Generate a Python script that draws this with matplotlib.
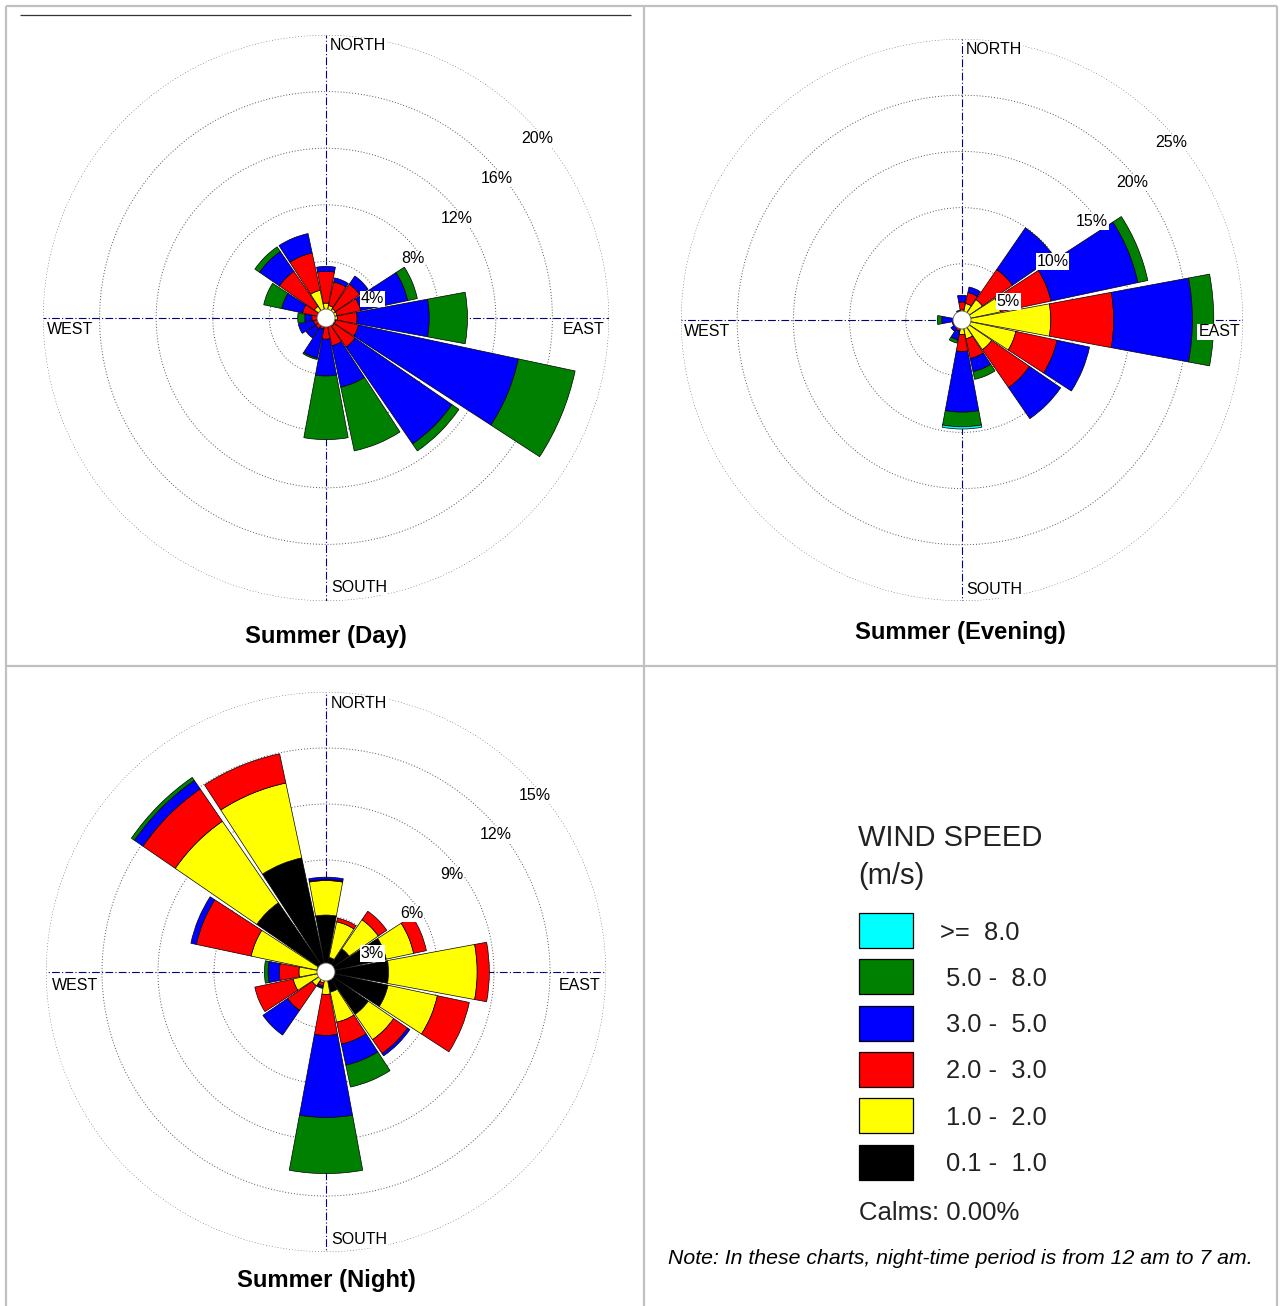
import numpy as np
import matplotlib
matplotlib.use('Agg')
import matplotlib.pyplot as plt
from matplotlib.patches import Circle, Rectangle

plt.rcParams['font.family'] = ['Liberation Sans', 'DejaVu Sans']

W, H = 1283, 1306

directions = ['N', 'NNE', 'NE', 'ENE', 'E', 'ESE', 'SE', 'SSE',
              'S', 'SSW', 'SW', 'WSW', 'W', 'WNW', 'NW', 'NNW']
direction_deg = [0, 22.5, 45, 67.5, 90, 112.5, 135, 157.5,
                 180, 202.5, 225, 247.5, 270, 292.5, 315, 337.5]

speed_labels = ['0.1 -  1.0', '1.0 -  2.0', '2.0 -  3.0',
                '3.0 -  5.0', '5.0 -  8.0', '>=  8.0']
speed_colors = ['#000000', '#ffff00', '#ff0000', '#0000ff', '#008000', '#00ffff']

# frequency (%) of each speed class, per direction (N, NNE, ... NNW)
day_lt1 = [0, 0, 0, 0, 0, 0, 0, 0, 0, 0, 0, 0, 0, 0, 0, 0]
day_1to2 = [1.05, 0.9, 0.8, 0.8, 0.8, 0.7, 0.7, 0.6, 0.5, 0.4, 0.4, 0.4, 0.4, 0.6, 1.0, 2.0]
day_2to3 = [2.25, 1.7, 2.1, 1.7, 1.4, 1.65, 1.8, 1.4, 1.0, 0.4, 0.5, 0.5, 0.6, 1.1, 3.0, 2.7]
day_3to5 = [0.35, 0.3, 0.7, 3.4, 5.1, 11.55, 8.3, 3.0, 2.6, 2.1, 0.8, 1.1, 0.5, 1.5, 1.7, 1.4]
day_5to8 = [0, 0, 0, 0.7, 2.7, 4.1, 0.6, 4.6, 4.5, 0.1, 0, 0, 0.5, 1.3, 0.4, 0]
day_ge8 = [0, 0, 0, 0, 0, 0, 0, 0, 0, 0, 0, 0, 0, 0, 0, 0]

eve_lt1 = [0.2, 0.2, 0.3, 0.3, 0.5, 0.5, 0.4, 0.3, 0.2, 0.1, 0.1, 0.1, 0.1, 0.1, 0.1, 0.1]
eve_1to2 = [0.7, 1.3, 1.9, 3.2, 7.4, 4.4, 2.8, 1.4, 1.1, 0.4, 0.3, 0.2, 0.2, 0.2, 0.2, 0.3]
eve_2to3 = [0.7, 1.0, 3.25, 4.6, 5.6, 3.75, 4.1, 1.8, 1.5, 0.5, 0.3, 0.2, 0.3, 0.1, 0.2, 0.4]
eve_3to5 = [0.6, 0.5, 4.5, 7.9, 7.0, 2.95, 3.35, 1.2, 5.4, 0.8, 0.5, 0.4, 1.2, 0.3, 0.1, 0.1]
eve_5to8 = [0, 0, 0, 0.9, 1.9, 0, 0, 0.7, 1.3, 0.3, 0, 0, 0.4, 0, 0, 0]
eve_ge8 = [0, 0, 0, 0, 0, 0, 0, 0, 0.2, 0, 0, 0, 0, 0, 0, 0]

night_lt1 = [3.05, 0.8, 1.5, 3.3, 3.35, 3.4, 2.75, 1.1, 0.3, 0.2, 0.2, 0.3, 0.3, 0.5, 4.5, 6.25]
night_1to2 = [1.85, 1.95, 1.9, 1.5, 4.75, 2.7, 1.65, 1.65, 0.9, 0.4, 0.7, 1.5, 1.15, 3.6, 5.3, 4.1]
night_2to3 = [0.05, 0.2, 0.55, 0.7, 0.65, 1.75, 0.9, 1.2, 2.2, 0.15, 1.6, 2.1, 1.05, 3.0, 2.1, 1.6]
night_3to5 = [0.13, 0, 0, 0, 0, 0, 0.15, 1.15, 4.4, 0.1, 1.6, 0, 0.6, 0.3, 0.55, 0]
night_5to8 = [0, 0, 0, 0, 0, 0, 0, 1.2, 3.0, 0.05, 0, 0, 0.2, 0, 0.2, 0]
night_ge8 = [0, 0, 0, 0, 0, 0, 0, 0, 0, 0, 0, 0, 0, 0, 0, 0]

day_rings = [4, 8, 12, 16, 20]
eve_rings = [5, 10, 15, 20, 25]
night_rings = [3, 6, 9, 12, 15]

calms_text = 'Calms: 0.00%'
note_text = 'Note: In these charts, night-time period is from 12 am to 7 am.'


fig = plt.figure(figsize=(W / 100, H / 100), dpi=100)

# background axis in pixel units: table lines, titles, legend
bg = fig.add_axes([0, 0, 1, 1])
bg.set_xlim(0, W)
bg.set_ylim(H, 0)
bg.axis('off')

grid_c = '#c0c0c0'
bg.hlines([6, 666], 6, 1277, color=grid_c, lw=1.6)
bg.vlines([6, 643.5, 1277], 6, H, color=grid_c, lw=1.6)
bg.hlines(15, 20, 631, color='#333333', lw=0.9)


def draw_rose(title, classes, rings, center, radius, lab_off, title_xy):
    cx, cy = center
    rect = [(cx - radius) / W, 1 - (cy + radius) / H, 2 * radius / W, 2 * radius / H]
    ax = fig.add_axes(rect, projection='polar')
    ax.set_theta_zero_location('N')
    ax.set_theta_direction(-1)
    rmax = rings[-1]
    ax.set_ylim(0, rmax)
    ax.set_yticks(rings)
    ax.set_yticklabels([])
    ax.set_xticks(np.deg2rad([0, 90, 180, 270]))
    ax.set_xticklabels([])
    ax.tick_params(length=0)
    ax.yaxis.grid(True, color='#555555', linestyle=(0, (1, 2)), linewidth=0.7)
    ax.xaxis.grid(True, color='#000080', linestyle=(0, (7, 2, 1, 2)), linewidth=0.8)
    ax.spines['polar'].set_visible(False)
    ax.set_axisbelow(True)

    theta = np.deg2rad(direction_deg)
    bottom = np.zeros(len(theta))
    for vals, col in zip(classes, speed_colors):
        h = np.array(vals, dtype=float)
        m = h > 0
        if m.any():
            ax.bar(theta[m], h[m], width=np.deg2rad(21), bottom=bottom[m],
                   color=col, edgecolor='black', linewidth=0.5, zorder=2)
        bottom += h

    ax.add_artist(Circle((0.5, 0.5), 9 / (2 * radius), transform=ax.transAxes,
                         facecolor='white', edgecolor='#555555', lw=0.6, zorder=5))

    box = dict(facecolor='white', edgecolor='none', pad=0.6)
    for r in rings:
        ax.annotate(f'{r}%', xy=(np.deg2rad(45), r), xytext=(-5, -21),
                    textcoords='offset pixels', ha='left', va='center',
                    fontsize=11.5, bbox=box, zorder=6, annotation_clip=False)

    names = ['NORTH', 'EAST', 'SOUTH', 'WEST']
    has = ['left', 'right', 'left', 'left']
    for name, ang, ha, off in zip(names, [0, 90, 180, 270], has, lab_off):
        ax.annotate(name, xy=(np.deg2rad(ang), rmax), xytext=off,
                    textcoords='offset pixels', ha=ha, va='center',
                    fontsize=11.5, bbox=box, zorder=6, annotation_clip=False)

    bg.text(title_xy[0], title_xy[1], title, ha='center', va='center',
            fontsize=17.2, fontweight='bold')


draw_rose('Summer (Day)',
          [day_lt1, day_1to2, day_2to3, day_3to5, day_5to8, day_ge8],
          day_rings, (326, 318), 283,
          [(4, -11), (-4, -11), (5, 14), (4, -11)], (326, 636))
draw_rose('Summer (Evening)',
          [eve_lt1, eve_1to2, eve_2to3, eve_3to5, eve_5to8, eve_ge8],
          eve_rings, (962, 320), 281,
          [(4, -10), (-3, -12), (4, 11), (3, -12)], (960, 632))
draw_rose('Summer (Night)',
          [night_lt1, night_1to2, night_2to3, night_3to5, night_5to8, night_ge8],
          night_rings, (326, 972), 280,
          [(5, -12), (-6, -13), (5, 12), (6, -13)], (326, 1281))

# legend panel
txt_c = '#222222'
bg.text(858, 838, 'WIND SPEED', ha='left', va='center', fontsize=21, color=txt_c)
bg.text(858, 876, '(m/s)', ha='left', va='center', fontsize=21, color=txt_c)
for i, k in enumerate(range(len(speed_labels) - 1, -1, -1)):
    y0 = 913 + i * 46.3
    bg.add_patch(Rectangle((859, y0), 54, 35, facecolor=speed_colors[k],
                           edgecolor='black', lw=0.9))
    x_t = 940 if k == len(speed_labels) - 1 else 946
    bg.text(x_t, y0 + 19.5, speed_labels[k], ha='left', va='center',
            fontsize=18.4, color=txt_c)
bg.text(859, 1213, calms_text, ha='left', va='center', fontsize=18.5, color=txt_c)
bg.text(960, 1259, note_text, ha='center', va='center', fontsize=15.3,
        style='italic', color='black')

fig.savefig('out.png', dpi=100)
